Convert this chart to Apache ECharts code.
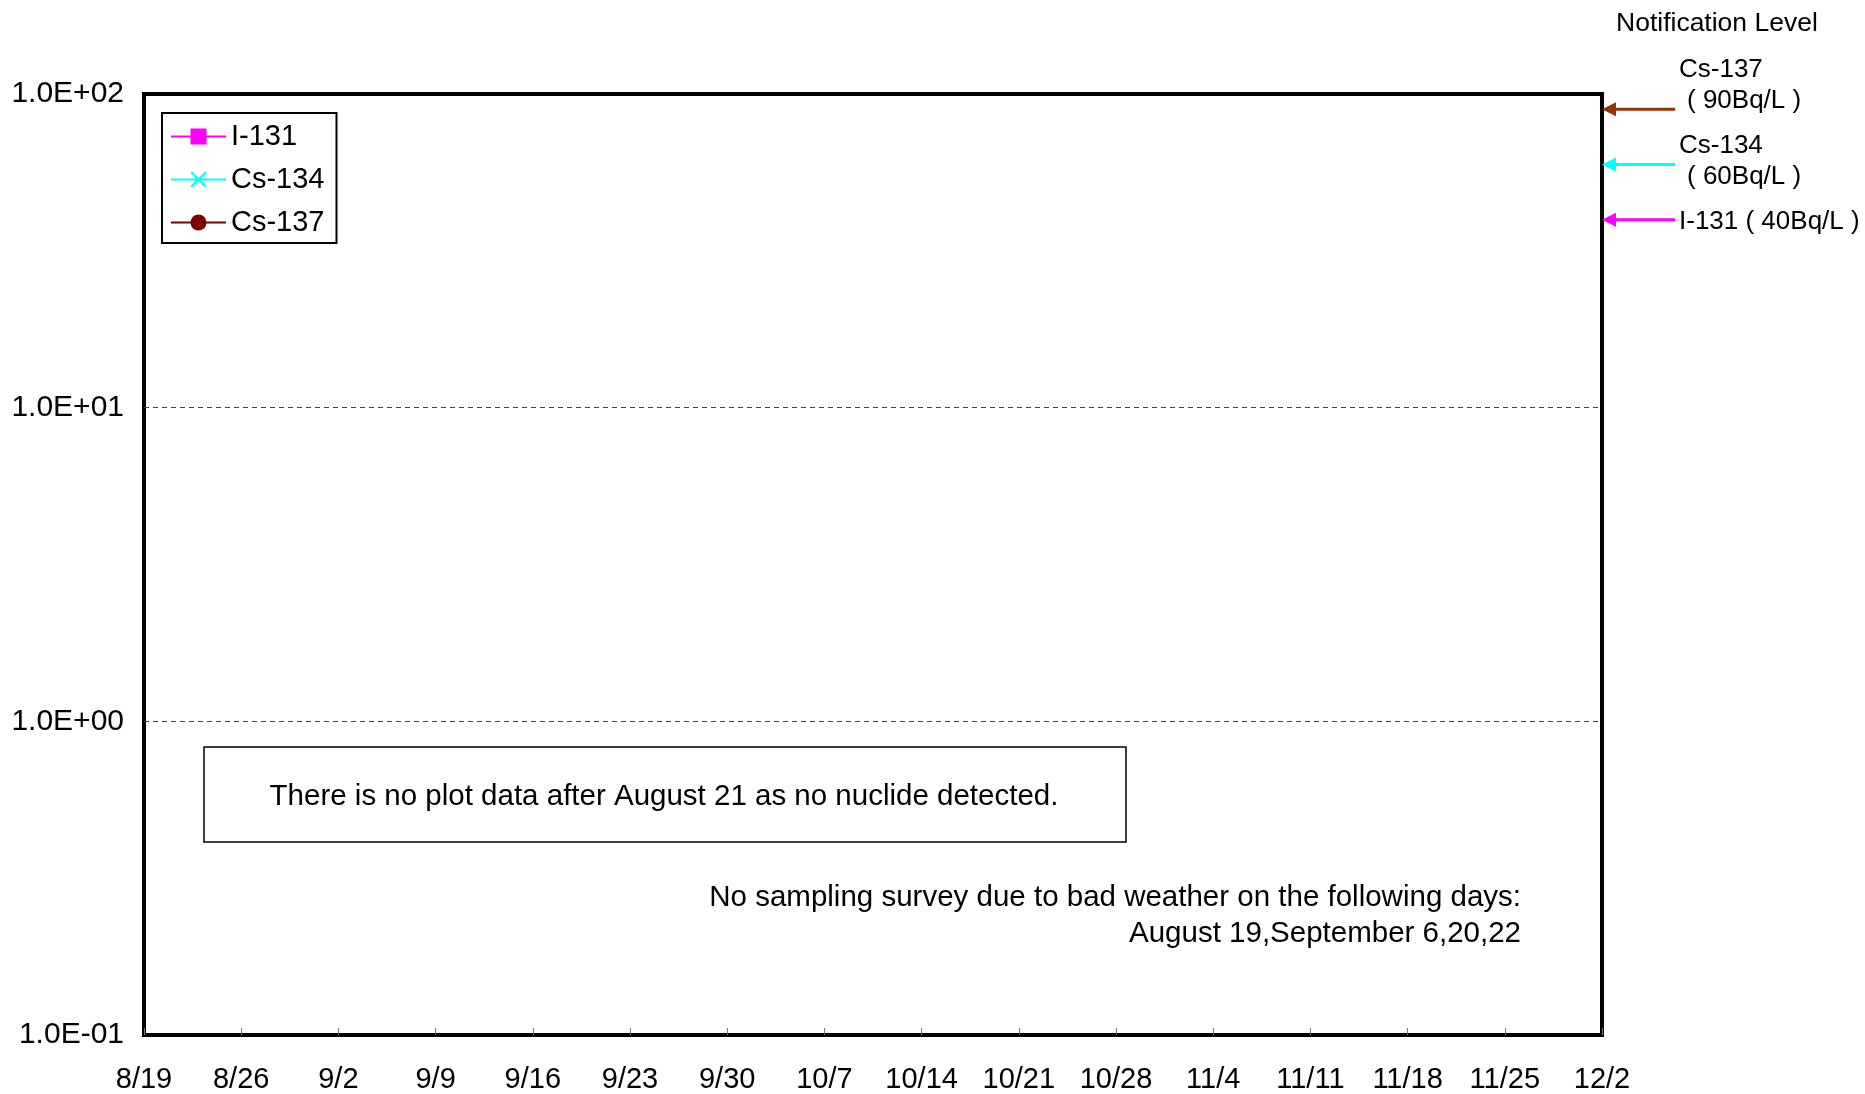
<!DOCTYPE html>
<html>
<head>
<meta charset="utf-8">
<title>Notification level chart</title>
<script src="https://cdn.jsdelivr.net/npm/echarts@6/dist/echarts.min.js"></script>
<style>
	html, body { margin: 0; padding: 0; background: #fff; }
	#main { width: 1865px; height: 1094px; }
</style>
</head>
<body>
<div id="main"></div>
<script>
	// x axis: days since 8/19, weekly ticks
	const xTickLabels = ['8/19', '8/26', '9/2', '9/9', '9/16', '9/23', '9/30', '10/7', '10/14', '10/21', '10/28', '11/4', '11/11', '11/18', '11/25', '12/2'];
	const daysPerTick = 7;

	// measured values [day, Bq/L] - nothing detected in this period
	const i131Values = [];
	const cs134Values = [];
	const cs137Values = [];

	// notification levels (Bq/L)
	const levelNames = ['Cs-137', 'Cs-134', 'I-131'];
	const levelValues = [90, 60, 40];
	const levelColors = ['#993300', '#00FFFF', '#FF00FF'];

	const FONT = 'Liberation Sans, Arial, sans-serif';

	// filled "x" marker
	const crossPath = 'path://M0,9L9,0L50,41L91,0L100,9L59,50L100,91L91,100L50,59L9,100L0,91L41,50Z';

	function sciLabel(v) {
		let e = Math.floor(Math.log10(v) + 1e-9);
		let m = v / Math.pow(10, e);
		return m.toFixed(1) + 'E' + (e < 0 ? '-' : '+') + String(Math.abs(e)).padStart(2, '0');
	}

	let chart = echarts.init(document.getElementById('main'));

	chart.setOption({
		animation: false,
		backgroundColor: '#fff',
		textStyle: { fontFamily: FONT },
		grid: {
			left: 144,
			right: 263,
			top: 94,
			bottom: 59,
			show: true,
			borderColor: '#000',
			borderWidth: 4,
			backgroundColor: '#fff'
		},
		legend: {
			left: 162,
			top: 113,
			orient: 'vertical',
			backgroundColor: '#fff',
			borderColor: '#000',
			borderWidth: 2,
			borderRadius: 0,
			padding: [9, 12, 6, 8],
			itemGap: 14,
			itemWidth: 55,
			itemHeight: 20,
			textStyle: { fontSize: 29, color: '#000', fontFamily: FONT, lineHeight: 29 },
			data: ['I-131', 'Cs-134', 'Cs-137']
		},
		xAxis: {
			type: 'value',
			min: 0,
			max: (xTickLabels.length - 1) * daysPerTick,
			interval: daysPerTick,
			axisLine: { show: false },
			axisTick: { show: true, inside: true, length: 7, lineStyle: { color: '#777', width: 1 } },
			splitLine: { show: false },
			axisLabel: {
				margin: 30,
				fontSize: 29,
				color: '#000',
				fontFamily: FONT,
				formatter: function (v) {
					return xTickLabels[Math.round(v / daysPerTick)];
				}
			}
		},
		yAxis: {
			type: 'log',
			logBase: 10,
			min: 0.1,
			max: 100,
			axisLine: { show: false },
			axisTick: { show: false },
			minorTick: { show: false },
			splitLine: {
				show: true,
				showMinLine: false,
				showMaxLine: false,
				lineStyle: { color: '#444', type: [5, 4], width: 1 }
			},
			axisLabel: {
				margin: 20,
				fontSize: 30,
				color: '#000',
				fontFamily: FONT,
				formatter: sciLabel
			}
		},
		series: [
			{
				name: 'I-131',
				type: 'line',
				data: i131Values,
				color: '#FF00FF',
				symbol: 'rect',
				symbolSize: 14,
				lineStyle: { color: '#FF00FF', width: 2 }
			},
			{
				name: 'Cs-134',
				type: 'line',
				data: cs134Values,
				color: '#00FFFF',
				symbol: crossPath,
				symbolSize: 16,
				lineStyle: { color: '#00FFFF', width: 2 }
			},
			{
				name: 'Cs-137',
				type: 'line',
				data: cs137Values,
				color: '#800000',
				symbol: 'circle',
				symbolSize: 16,
				lineStyle: { color: '#800000', width: 2 }
			}
		]
	});

	// arrows for the notification levels, placed via the y axis scale
	let gridRight = 1865 - 263;
	let graphics = [];
	levelValues.forEach(function (val, i) {
		let y = chart.convertToPixel({ yAxisIndex: 0 }, val) + 1;
		graphics.push({
			type: 'line',
			silent: true,
			shape: { x1: gridRight + 12, y1: y, x2: 1675, y2: y },
			style: { stroke: levelColors[i], lineWidth: 3 }
		});
		graphics.push({
			type: 'polygon',
			silent: true,
			shape: { points: [[gridRight, y], [gridRight + 14, y - 7], [gridRight + 14, y + 7]] },
			style: { fill: levelColors[i] }
		});
	});

	let noteStyle = { fontSize: 26, fill: '#000', fontFamily: FONT };
	function txt(x, y, text, align, size) {
		return {
			type: 'text',
			silent: true,
			x: x,
			y: y,
			style: Object.assign({}, noteStyle, {
				text: text,
				align: align || 'left',
				verticalAlign: 'middle',
				fontSize: size || 26
			})
		};
	}

	graphics.push(txt(1616, 24, 'Notification Level', 'left', 26.5));
	graphics.push(txt(1679, 70, levelNames[0]));
	graphics.push(txt(1687, 101, '( ' + levelValues[0] + 'Bq/L )'));
	graphics.push(txt(1679, 146, levelNames[1]));
	graphics.push(txt(1687, 177, '( ' + levelValues[1] + 'Bq/L )'));
	graphics.push(txt(1679, 222, levelNames[2] + ' ( ' + levelValues[2] + 'Bq/L )'));

	// note box
	graphics.push({
		type: 'rect',
		silent: true,
		shape: { x: 204, y: 747, width: 922, height: 95 },
		style: { fill: '#fff', stroke: '#000', lineWidth: 1.5 }
	});
	graphics.push(txt(664, 797, 'There is no plot data after August 21 as no nuclide detected.', 'center', 29.5));
	graphics.push(txt(1521, 898, 'No sampling survey due to bad weather on the following days:', 'right', 29.5));
	graphics.push(txt(1521, 934, 'August 19,September 6,20,22', 'right', 29.5));

	chart.setOption({ graphic: graphics });
</script>
</body>
</html>
